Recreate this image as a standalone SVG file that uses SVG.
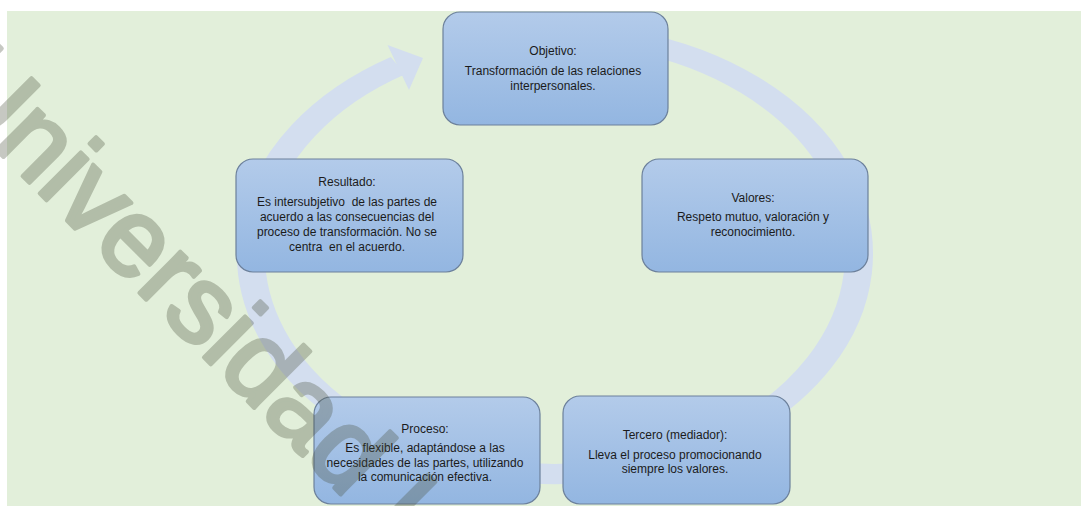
<svg xmlns="http://www.w3.org/2000/svg" width="1081" height="506" viewBox="0 0 1081 506">
<defs>
<linearGradient id="boxGrad" x1="0" y1="0" x2="0" y2="1">
<stop offset="0" stop-color="#b3cbea"/>
<stop offset="1" stop-color="#93b6e1"/>
</linearGradient>
</defs>
<style>
.box{fill:url(#boxGrad);stroke:#6c809b;stroke-width:1.2}
.lbl{font-family:"Liberation Sans",Arial,sans-serif;font-size:12px;fill:#1b1b1b;text-anchor:middle;white-space:pre}
.ring{fill:none;stroke:#d3deef;stroke-width:28}
.wm{font-family:"Liberation Sans",Arial,sans-serif;font-size:110px;fill:#454c37;stroke:#454c37;stroke-width:4;stroke-linejoin:round}
</style>
<rect x="7" y="11" width="1074" height="495" fill="#e2efda"/>
<g id="connectors">
<path class="ring" transform="translate(555,254) scale(1,0.7237)" d="M 78.7 -293.6 A 304 304 0 1 1 -157.0 -260.3"/>
<polygon points="387.5,45 409,90 423,58" fill="#d3deef"/>
</g>
<g id="objetivo">
<rect class="box" x="443" y="12" width="225" height="113" rx="17"/>
<text class="lbl" x="553" y="55">Objetivo:</text>
<text class="lbl" x="553" y="75">Transformación de las relaciones</text>
<text class="lbl" x="553" y="90">interpersonales.</text>
</g>
<g id="valores">
<rect class="box" x="642" y="159" width="226" height="113" rx="17"/>
<text class="lbl" x="753" y="202">Valores:</text>
<text class="lbl" x="753" y="221">Respeto mutuo, valoración y</text>
<text class="lbl" x="753" y="236">reconocimiento.</text>
</g>
<g id="tercero">
<rect class="box" x="563" y="396" width="227" height="108" rx="17"/>
<text class="lbl" x="675" y="439">Tercero (mediador):</text>
<text class="lbl" x="675" y="459">Lleva el proceso promocionando</text>
<text class="lbl" x="675" y="473">siempre los valores.</text>
</g>
<g id="proceso">
<rect class="box" x="314" y="397" width="226" height="107" rx="17"/>
<text class="lbl" x="425" y="433">Proceso:</text>
<text class="lbl" x="425" y="452">Es flexible, adaptándose a las</text>
<text class="lbl" x="425" y="466.5">necesidades de las partes, utilizando</text>
<text class="lbl" x="425" y="480.5">la comunicación efectiva.</text>
</g>
<g id="resultado">
<rect class="box" x="236" y="159" width="227" height="113" rx="17"/>
<text class="lbl" x="347" y="186">Resultado:</text>
<text class="lbl" x="347" y="206">Es intersubjetivo  de las partes de</text>
<text class="lbl" x="347" y="221">acuerdo a las consecuencias del</text>
<text class="lbl" x="347" y="236">proceso de transformación. No se</text>
<text class="lbl" x="347" y="251">centra  en el acuerdo.</text>
</g>
<g id="watermark" opacity="0.3">
<text class="wm" transform="translate(-64.9,88.7) rotate(45)">Universidad I</text>
</g>
</svg>
